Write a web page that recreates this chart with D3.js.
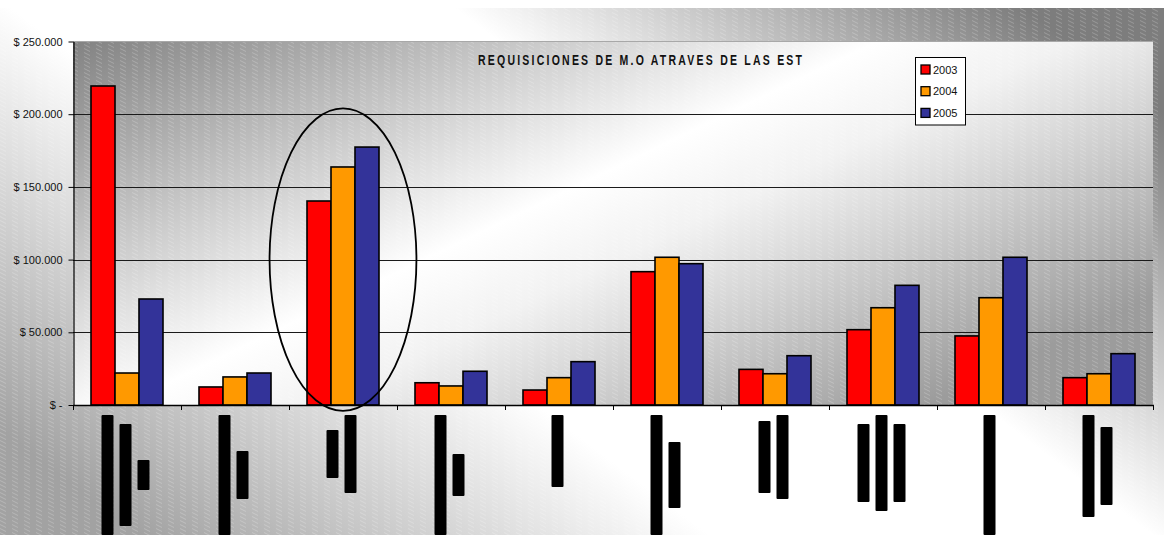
<!DOCTYPE html>
<html>
<head>
<meta charset="utf-8">
<script src="https://cdn.jsdelivr.net/npm/d3@7"></script>
<style>
  html, body { margin: 0; padding: 0; background: #ffffff; }
  svg { display: block; }
</style>
</head>
<body>
<svg id="chart" width="1164" height="535"></svg>
<script>
// Requisition amounts per station and year
const categories = ["E01", "E02", "E03", "E04", "E05", "E06", "E07", "E08", "E09", "E10"];
const years = ["2003", "2004", "2005"];
const values2003 = [219400, 12400, 140300, 15300, 10300, 91700, 24500, 51800, 47500, 18800];
const values2004 = [22000, 19300, 163700, 13100, 18800, 101600, 21500, 66900, 73800, 21500];
const values2005 = [72900, 22000, 177400, 23200, 29800, 97200, 33900, 82300, 101600, 35300];
const yTicks = [0, 50000, 100000, 150000, 200000, 250000];
const yTickLabels = ["$ -", "$ 50.000", "$ 100.000", "$ 150.000", "$ 200.000", "$ 250.000"];
// station names are redacted: character count of each line of the rotated label
const labelLineChars = [[20, 17, 5], [20, 8], [8, 13], [20, 7], [12], [20, 11], [12, 14], [13, 16, 13], [20], [17, 13]];
const highlightCategory = "E03";
const highlightRange = [-4000, 204000];
const chartTitle = "REQUISICIONES DE M.O ATRAVES DE LAS EST";

const seriesValues = [values2003, values2004, values2005];
const seriesColors = ["#ff0000", "#ff9900", "#333399"];

const W = 1164, H = 535;
const plot = { left: 73, right: 1153, top: 41.5, bottom: 405 };

const svg = d3.select("#chart");
const defs = svg.append("defs");

// chart area background: light band along the main diagonal
const gOuter = defs.append("linearGradient").attr("id", "outerGrad")
  .attr("x1", 0).attr("y1", 0.8).attr("x2", 1).attr("y2", 0.2);
[[0, "#a2a2a2"], [0.36, "#ffffff"], [0.64, "#ffffff"], [1, "#7d7d7d"]].forEach(([o, c]) =>
  gOuter.append("stop").attr("offset", o).attr("stop-color", c));

// plot area background: light band along the anti-diagonal
const gPlot = defs.append("linearGradient").attr("id", "plotGrad")
  .attr("x1", 0).attr("y1", 0).attr("x2", 1).attr("y2", 0.7);
[[0, "#828282"], [0.5, "#ffffff"], [0.62, "#f2f2f2"], [1, "#9c9c9c"]].forEach(([o, c]) =>
  gPlot.append("stop").attr("offset", o).attr("stop-color", c));

// fine diagonal texture
const pat = defs.append("pattern").attr("id", "texture")
  .attr("patternUnits", "userSpaceOnUse").attr("width", 12).attr("height", 4);
pat.append("line").attr("x1", 0).attr("y1", 0.5).attr("x2", 6).attr("y2", 3.5)
  .attr("stroke", "#ffffff").attr("stroke-opacity", 0.22).attr("stroke-width", 1);

svg.append("rect").attr("x", 0).attr("y", 8).attr("width", W).attr("height", H - 8)
  .attr("fill", "url(#outerGrad)");
svg.append("rect").attr("x", 0).attr("y", 8).attr("width", W).attr("height", H - 8)
  .attr("fill", "url(#texture)");

// scales
const x0 = d3.scaleBand().domain(categories).range([plot.left, plot.right])
  .paddingInner(1 / 3).paddingOuter(1 / 6);
const x1 = d3.scaleBand().domain(years).range([0, x0.bandwidth()]);
const y = d3.scaleLinear().domain([0, 250000]).range([plot.bottom, plot.top]);
const charScale = d3.scaleLinear().domain([0, 20]).range([0, 120]);

svg.append("rect").attr("x", plot.left).attr("y", plot.top)
  .attr("width", plot.right - plot.left).attr("height", plot.bottom - plot.top)
  .attr("fill", "url(#plotGrad)");
svg.append("rect").attr("x", plot.left).attr("y", plot.top)
  .attr("width", plot.right - plot.left).attr("height", plot.bottom - plot.top)
  .attr("fill", "url(#texture)");
svg.append("line").attr("x1", plot.left).attr("x2", plot.right)
  .attr("y1", plot.top).attr("y2", plot.top)
  .attr("stroke", "#a8a8a8").attr("stroke-width", 1);

// gridlines
svg.append("g").selectAll("line")
  .data(yTicks.filter(d => d > 0 && d < 250000))
  .join("line")
  .attr("x1", plot.left).attr("x2", plot.right)
  .attr("y1", d => Math.round(y(d)) + 0.5).attr("y2", d => Math.round(y(d)) + 0.5)
  .attr("stroke", "#1a1a1a").attr("stroke-width", 1);

// bars
const rows = categories.map((c, i) => ({ cat: c, vals: years.map((yr, j) => ({ yr, j, v: seriesValues[j][i] })) }));
const groups = svg.append("g").selectAll("g").data(rows).join("g")
  .attr("transform", d => `translate(${x0(d.cat)},0)`);
groups.selectAll("rect").data(d => d.vals).join("rect")
  .attr("x", d => x1(d.yr))
  .attr("y", d => y(d.v))
  .attr("width", x1.bandwidth())
  .attr("height", d => y(0) - y(d.v))
  .attr("fill", d => seriesColors[d.j])
  .attr("stroke", "#000")
  .attr("stroke-width", 1.6);

// y axis
const yAxis = d3.axisLeft(y).tickValues(yTicks)
  .tickFormat((d, i) => yTickLabels[i]).tickSize(5).tickSizeOuter(0).tickPadding(6);
const gy = svg.append("g").attr("transform", `translate(${plot.left + 0.5},0)`).call(yAxis);
gy.select(".domain").attr("stroke", "#000").attr("stroke-width", 1.2);
gy.selectAll(".tick line").attr("stroke", "#000");
gy.selectAll("text").attr("font-family", "'Liberation Sans', Arial, sans-serif")
  .attr("font-size", 11).attr("fill", "#111");

// x axis line and category boundary ticks
svg.append("line").attr("x1", plot.left).attr("x2", plot.right + 1)
  .attr("y1", plot.bottom + 0.5).attr("y2", plot.bottom + 0.5)
  .attr("stroke", "#000").attr("stroke-width", 1.3);
svg.append("g").selectAll("line")
  .data(d3.range(categories.length + 1))
  .join("line")
  .attr("x1", i => plot.left + 0.5 + i * x0.step())
  .attr("x2", i => plot.left + 0.5 + i * x0.step())
  .attr("y1", plot.bottom).attr("y2", plot.bottom + 5)
  .attr("stroke", "#000").attr("stroke-width", 1);

// redacted rotated category labels
const lineGap = 18, lineThick = 12, labelTop = 415;
const labelG = svg.append("g");
categories.forEach((c, i) => {
  const lines = labelLineChars[i];
  const cx = x0(c) + x0.bandwidth() / 2 - 1.5;
  const maxLen = charScale(d3.max(lines));
  const midY = labelTop + maxLen / 2;
  lines.forEach((n, k) => {
    const lx = cx + (k - (lines.length - 1) / 2) * lineGap;
    const len = charScale(n);
    labelG.append("rect")
      .attr("x", lx - lineThick / 2).attr("y", midY - len / 2)
      .attr("width", lineThick).attr("height", len)
      .attr("rx", 1)
      .attr("fill", "#000");
  });
});

// highlighted station
const ex = x0(highlightCategory) + x0.bandwidth() / 2;
svg.append("ellipse")
  .attr("cx", ex)
  .attr("cy", (y(highlightRange[0]) + y(highlightRange[1])) / 2)
  .attr("rx", x0.step() * 0.68)
  .attr("ry", (y(highlightRange[0]) - y(highlightRange[1])) / 2)
  .attr("fill", "none").attr("stroke", "#000").attr("stroke-width", 1.8);

// title
svg.append("text")
  .attr("transform", "translate(640,65) scale(0.75,1)")
  .attr("text-anchor", "middle")
  .attr("font-family", "'Liberation Sans', Arial, sans-serif")
  .attr("font-weight", "bold").attr("font-size", 14)
  .attr("textLength", 432).attr("lengthAdjust", "spacing")
  .attr("fill", "#111")
  .text(chartTitle);

// legend
const lg = svg.append("g").attr("transform", "translate(915.5,57.5)");
lg.append("rect").attr("width", 50).attr("height", 67.5)
  .attr("fill", "#ffffff").attr("stroke", "#000").attr("stroke-width", 1);
years.forEach((yr, j) => {
  const cy = 12 + j * 21.7;
  lg.append("rect").attr("x", 5.5).attr("y", cy - 4.5).attr("width", 9).attr("height", 9)
    .attr("fill", seriesColors[j]).attr("stroke", "#000").attr("stroke-width", 1.3);
  lg.append("text").attr("x", 17.5).attr("y", cy + 4)
    .attr("font-family", "'Liberation Sans', Arial, sans-serif")
    .attr("font-size", 11).attr("fill", "#111").text(yr);
});
</script>
</body>
</html>
